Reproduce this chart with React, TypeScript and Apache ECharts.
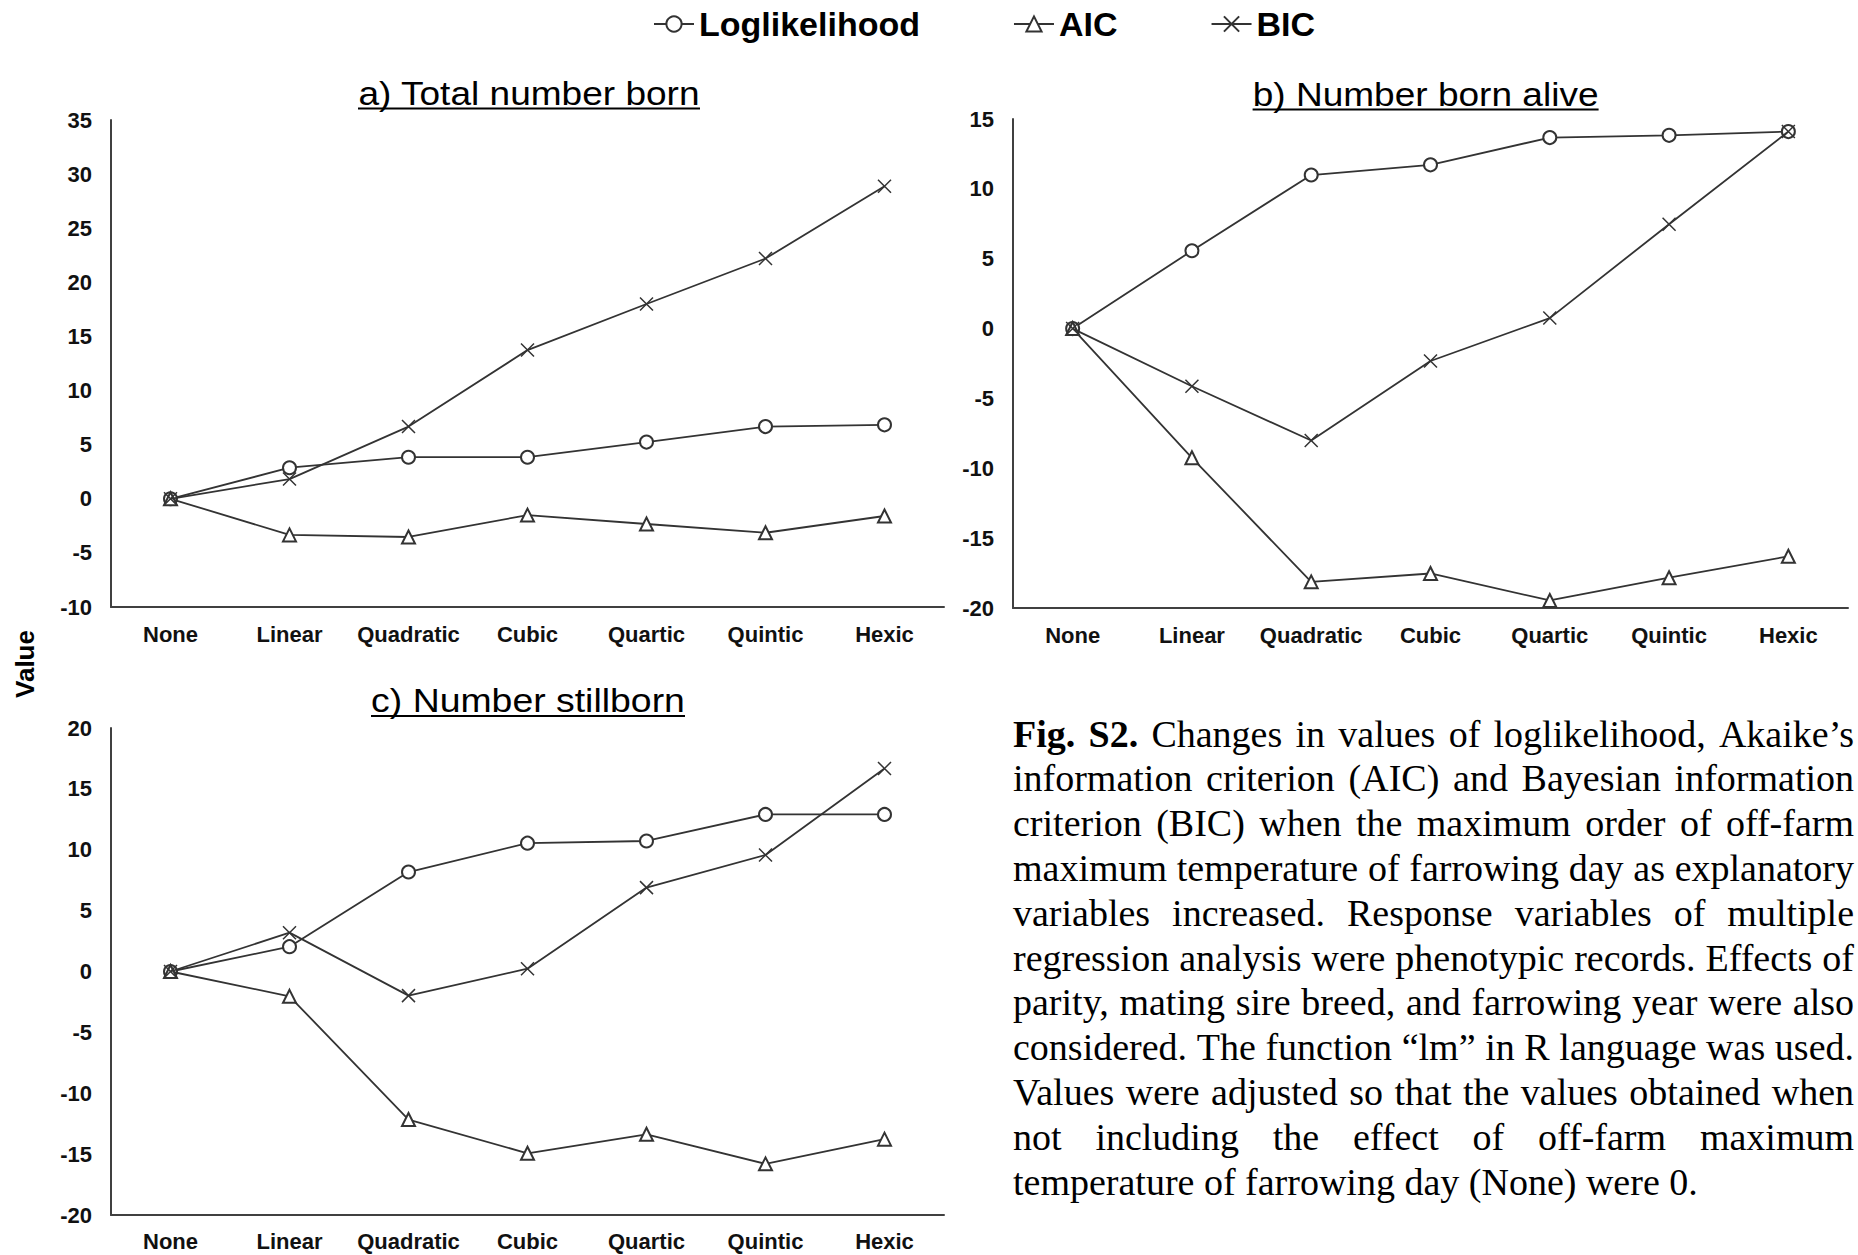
import React, { useEffect, useRef } from 'react';
import * as echarts from 'echarts';

const categories = ['None', 'Linear', 'Quadratic', 'Cubic', 'Quartic', 'Quintic', 'Hexic'];
const seriesNames = ['Loglikelihood', 'AIC', 'BIC'];

// a) Total number born
const aLog = [0, 2.87, 3.84, 3.84, 5.24, 6.67, 6.83];
const aAIC = [0, -3.34, -3.53, -1.51, -2.33, -3.14, -1.59];
const aBIC = [0, 1.82, 6.67, 13.74, 18.0, 22.2, 28.87];
// b) Number born alive
const bLog = [0, 5.57, 10.99, 11.72, 13.67, 13.83, 14.1];
const bAIC = [0, -9.25, -18.13, -17.53, -19.46, -17.83, -16.3];
const bBIC = [0, -4.13, -8.01, -2.32, 0.75, 7.47, 14.1];
// c) Number stillborn
const cLog = [0, 2.04, 8.17, 10.54, 10.72, 12.9, 12.9];
const cAIC = [0, -2.04, -12.16, -14.93, -13.37, -15.8, -13.77];
const cBIC = [0, 3.19, -1.98, 0.23, 6.89, 9.57, 16.67];

const panelTitles = ['a) Total number born', 'b) Number born alive', 'c) Number stillborn'];
const yMins = [-10, -20, -20];
const yMaxs = [35, 15, 20];
const yStep = 5;
const yAxisTitle = 'Value';

const captionLines = [
  'Fig. S2. Changes in values of loglikelihood, Akaike\u2019s',
  'information criterion (AIC) and Bayesian information',
  'criterion (BIC) when the maximum order of off-farm',
  'maximum temperature of farrowing day as explanatory',
  'variables increased. Response variables of multiple',
  'regression analysis were phenotypic records. Effects of',
  'parity, mating sire breed, and farrowing year were also',
  'considered. The function \u201clm\u201d in R language was used.',
  'Values were adjusted so that the values obtained when',
  'not including the effect of off-farm maximum',
  'temperature of farrowing day (None) were 0.',
];

const SANS = '"Liberation Sans", Arial, sans-serif';
const SERIF = '"Liberation Serif", "Times New Roman", serif';

export default function App() {
  const ref = useRef<HTMLDivElement>(null);

  useEffect(() => {
    const el = ref.current;
    if (!el) return;
    const chart = echarts.init(el, null, { renderer: 'svg' });

    const canvas = document.createElement('canvas');
    const ctx = canvas.getContext('2d')!;
    const measure = (text: string, size: number, bold: boolean, family: string) => {
      ctx.font = `${bold ? 'bold ' : ''}${size}px ${family}`;
      return ctx.measureText(text).width;
    };

    const grids = [
      { left: 111, top: 120, width: 833, height: 487 },
      { left: 1013, top: 119, width: 835, height: 489 },
      { left: 111, top: 728, width: 833, height: 487 },
    ];
    const labelMargins = [16, 16, 15];

    const panelData = [
      [aLog, aAIC, aBIC],
      [bLog, bAIC, bBIC],
      [cLog, cAIC, cBIC],
    ];
    const symbols = ['emptyCircle', 'emptyTriangle', 'path://M0,0L10,10M10,0L0,10'];

    const labelStyle = {
      color: '#111',
      fontSize: 22,
      fontWeight: 'bold' as const,
      fontFamily: SANS,
    };

    const xAxes = grids.map((_, i) => ({
      type: 'category',
      gridIndex: i,
      data: categories,
      boundaryGap: true,
      axisTick: { show: false },
      axisLine: { show: true, onZero: false, lineStyle: { color: '#404040', width: 2 } },
      axisLabel: { ...labelStyle, margin: labelMargins[i], interval: 0 },
      splitLine: { show: false },
    }));
    const yAxes = grids.map((_, i) => ({
      type: 'value',
      gridIndex: i,
      min: yMins[i],
      max: yMaxs[i],
      interval: yStep,
      axisTick: { show: false },
      axisLine: { show: true, lineStyle: { color: '#404040', width: 2 } },
      axisLabel: { ...labelStyle, margin: 19 },
      splitLine: { show: false },
    }));

    const series: any[] = [];
    panelData.forEach((arrs, p) => {
      arrs.forEach((data, s) => {
        series.push({
          type: 'line',
          name: seriesNames[s],
          xAxisIndex: p,
          yAxisIndex: p,
          data,
          symbol: symbols[s],
          symbolSize: 13,
          lineStyle: { color: '#333', width: 1.8 },
          itemStyle: { color: '#333', borderColor: '#333', borderWidth: 1.5 },
          emphasis: { disabled: true },
          z: 3 + s,
        });
      });
    });

    const graphics: any[] = [];

    // Panel titles (underlined)
    const titleSpecs = [
      { cx: 529, cy: 93, uy: 108.5, target: 342 },
      { cx: 1425.6, cy: 94, uy: 109.5, target: 346 },
      { cx: 528, cy: 700.5, uy: 716, target: 314 },
    ];
    const TITLE_SIZE = 32;
    panelTitles.forEach((t, i) => {
      const spec = titleSpecs[i];
      const w = measure(t, TITLE_SIZE, false, SANS);
      const sx = spec.target / w;
      graphics.push({
        type: 'text',
        x: spec.cx,
        y: spec.cy,
        scaleX: sx,
        scaleY: 1.04,
        style: {
          text: t,
          fontSize: TITLE_SIZE,
          fontFamily: SANS,
          fill: '#000',
          align: 'center',
          verticalAlign: 'middle',
        },
      });
      graphics.push({
        type: 'line',
        shape: { x1: spec.cx - spec.target / 2, y1: spec.uy, x2: spec.cx + spec.target / 2, y2: spec.uy },
        style: { stroke: '#000', lineWidth: 2 },
      });
    });

    // Shared y-axis title
    graphics.push({
      type: 'text',
      x: 25,
      y: 664,
      rotation: Math.PI / 2,
      style: {
        text: yAxisTitle,
        fontSize: 26,
        fontWeight: 'bold',
        fontFamily: SANS,
        fill: '#000',
        align: 'center',
        verticalAlign: 'middle',
      },
    });

    // Caption, justified word by word
    const CAP_SIZE = 38;
    const CAP_LEFT = 1013;
    const CAP_WIDTH = 841;
    const CAP_TOP = 733.5;
    const CAP_LH = 44.8;
    captionLines.forEach((line, li) => {
      const words = line.split(' ');
      const bolds = words.map((_, wi) => li === 0 && wi < 2);
      const widths = words.map((w, wi) => measure(w, CAP_SIZE, bolds[wi], SERIF));
      const total = widths.reduce((a, b) => a + b, 0);
      const isLast = li === captionLines.length - 1;
      const gap = isLast || words.length < 2
        ? measure(' ', CAP_SIZE, false, SERIF)
        : (CAP_WIDTH - total) / (words.length - 1);
      let x = CAP_LEFT;
      words.forEach((w, wi) => {
        graphics.push({
          type: 'text',
          x,
          y: CAP_TOP + li * CAP_LH,
          style: {
            text: w,
            fontSize: CAP_SIZE,
            fontWeight: bolds[wi] ? 'bold' : 'normal',
            fontFamily: SERIF,
            fill: '#000',
            align: 'left',
            verticalAlign: 'middle',
          },
        });
        x += widths[wi] + gap;
      });
    });

    const option: any = {
      animation: false,
      backgroundColor: '#fff',
      legend: {
        data: seriesNames,
        left: 653,
        top: 7,
        padding: 0,
        itemWidth: 40,
        itemHeight: 19,
        itemGap: 93,
        selectedMode: false,
        textStyle: { fontSize: 34, fontWeight: 'bold', fontFamily: SANS, color: '#000' },
      },
      grid: grids.map((g) => ({ ...g, containLabel: false, outerBoundsMode: 'none' })),
      xAxis: xAxes,
      yAxis: yAxes,
      series,
      graphic: { elements: graphics },
    };

    chart.setOption(option);
    return () => chart.dispose();
  }, []);

  return (
    <div
      ref={ref}
      style={{ position: 'absolute', left: 0, top: 0, width: 1858, height: 1255, background: '#fff' }}
    />
  );
}
